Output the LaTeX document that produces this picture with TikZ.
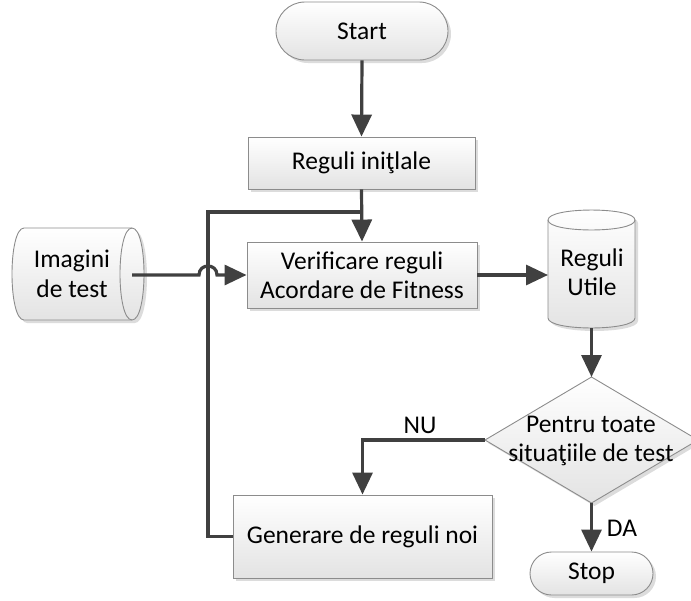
\documentclass[tikz,border=0pt]{standalone}
\usepackage{fontspec}
\setmainfont{Carlito}
\usetikzlibrary{arrows.meta,shadows}
\definecolor{edge}{RGB}{140,140,140}
\definecolor{flow}{RGB}{64,64,64}
\tikzset{
  shapefill/.style={draw=edge, line width=0.9pt, top color=white, bottom color=black!11,
    drop shadow={shadow xshift=3pt, shadow yshift=-3pt, opacity=0.3, fill=black!45}},
  procbox/.style={shapefill, rectangle, inner sep=0pt},
  txt/.style={font=\fontsize{25.5}{29.5}\selectfont, align=center, inner sep=0pt},
  flowline/.style={draw=flow, line width=3.2pt, line join=miter},
  flowarrow/.style={flowline, -{Triangle[length=22pt,width=20pt]}},
}
\begin{document}
\begin{tikzpicture}[x=1pt, y=-1pt]
  \useasboundingbox (0,0) rectangle (691,600);

  % terminals and process boxes
  \node[procbox, rounded corners=29pt, minimum width=172pt, minimum height=58pt, txt] (start) at (362,31) {Start};
  \node[procbox, minimum width=227pt, minimum height=52pt, txt] (init) at (361.5,163) {Reguli iniţlale};
  \node[procbox, minimum width=230pt, minimum height=66pt, txt] (verif) at (362,275) {Verificare reguli\\Acordare de Fitness};
  \node[procbox, minimum width=259pt, minimum height=83pt, txt] (gen) at (362.5,536.5) {Generare de reguli noi};
  \node[procbox, rounded corners=21.5pt, minimum width=123pt, minimum height=43pt, txt] (stop) at (591.5,573.5) {Stop};

  % stored data: test images (horizontal drum)
  \path[shapefill] (24,228) -- (132,228) .. controls (148,228) and (148,320) .. (132,320)
    -- (24,320) .. controls (8,320) and (8,228) .. (24,228) -- cycle;
  \draw[edge, line width=0.9pt] (132,228) .. controls (116,228) and (116,320) .. (132,320);
  \node[txt] (img) at (72,274) {Imagini\\de test};
  \coordinate (imgout) at (132,275);

  % useful rules store (vertical drum)
  \path[shapefill] (548,220) .. controls (548,206.7) and (635,206.7) .. (635,220)
    -- (635,318) .. controls (635,331.3) and (548,331.3) .. (548,318) -- cycle;
  \draw[edge, line width=0.9pt] (548,220) .. controls (548,233.3) and (635,233.3) .. (635,220);
  \node[txt] (util) at (592,272) {Reguli\\Utile};
  \coordinate (utilin) at (548,275);
  \coordinate (utilout) at (591.5,328);

  % decision
  \coordinate (dtop) at (591.5,377);
  \coordinate (dleft) at (485,440);
  \coordinate (dright) at (698,440);
  \coordinate (dbot) at (591.5,503);
  \path[shapefill] (dtop) -- (dright) -- (dbot) -- (dleft) -- cycle;
  \node[txt] (dec) at (591,441) {Pentru toate\\situaţiile de test};

  % connectors
  \coordinate (merge) at (362,212);
  \coordinate (loopturn) at (208,212);
  \draw[flowarrow] (start.south) -- (init.north);
  \draw[flowarrow] (init.south) -- (verif.north);
  \draw[flowline] (gen.west) -| (loopturn) -- (merge);
  \draw[flowarrow] (imgout) -- (199,275) .. controls (199,263) and (217,263) .. (217,275) -- (verif.west);
  \draw[flowarrow] (verif.east) -- (utilin);
  \draw[flowarrow] (utilout) -- (dtop);
  \draw[flowarrow] (dleft) -| (gen.north);
  \draw[flowarrow] (dbot) -- (stop.north);

  \node[txt] (nu) at (420,425) {NU};
  \node[txt] (da) at (622,528) {DA};
\end{tikzpicture}
\end{document}
